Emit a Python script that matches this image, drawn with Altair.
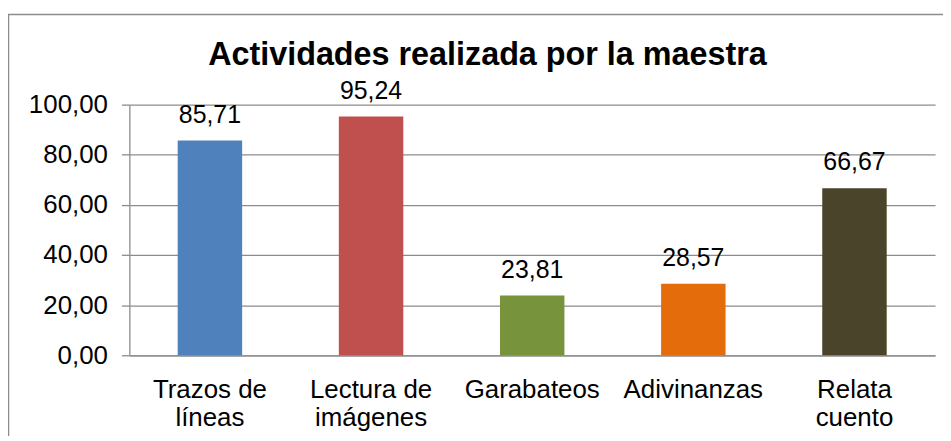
import altair as alt
import pandas as pd

categories = ["Trazos de líneas", "Lectura de imágenes", "Garabateos", "Adivinanzas", "Relata cuento"]
label_lines = [["Trazos de", "líneas"], ["Lectura de", "imágenes"], ["Garabateos"], ["Adivinanzas"], ["Relata", "cuento"]]
values = [85.71, 95.24, 23.81, 28.57, 66.67]
colors = ["#4F81BD", "#C0504D", "#77933C", "#E46C0A", "#4A452A"]
value_labels = ["85,71", "95,24", "23,81", "28,57", "66,67"]
title_text = "Actividades realizada por la maestra"

df = pd.DataFrame({"cat": categories, "val": values, "lab": value_labels})

mapping = "{" + ",".join(
    "'" + c + "':[" + ",".join("'" + l + "'" for l in ls) + "]" for c, ls in zip(categories, label_lines)
) + "}"

W, H = 810, 252
FONT = "Liberation Sans"
GRAY = "#8C8C8C"

x = alt.X("cat:N", sort=categories, title=None,
          scale=alt.Scale(paddingInner=0.6, paddingOuter=0.3),
          axis=alt.Axis(labelAngle=0, labelExpr=mapping + "[datum.label]", labelFontSize=26,
                        labelFont=FONT, labelColor="black", labelLineHeight=28.5,
                        labelPadding=21, ticks=False, domainColor=GRAY, domainWidth=1.3,
                        labelBaseline="top", grid=False))
y = alt.Y("val:Q", title=None,
          scale=alt.Scale(domain=[0, 100], nice=False),
          axis=alt.Axis(values=[0, 20, 40, 60, 80, 100],
                        labelExpr="replace(format(datum.value, '.2f'), '.', ',')",
                        labelFontSize=26, labelFont=FONT, labelColor="black",
                        tickSize=8, tickColor=GRAY, tickWidth=1.3, labelPadding=14,
                        domainColor=GRAY, domainWidth=1.3, gridColor=GRAY, gridWidth=1.3))

base = alt.Chart(df)
bars = base.mark_bar().encode(
    x=x, y=y,
    color=alt.Color("cat:N", sort=categories, scale=alt.Scale(domain=categories, range=colors), legend=None),
)
texts = base.mark_text(baseline="alphabetic", dy=-18, fontSize=25, font=FONT, color="black").encode(
    x=alt.X("cat:N", sort=categories), y="val:Q", text="lab:N"
)
border = alt.Chart(alt.Data(values=[{}])).mark_rect(filled=False, stroke=GRAY, strokeWidth=1.5).encode(
    x=alt.value(-121.5), x2=alt.value(W + 40), y=alt.value(-90.5), y2=alt.value(H + 120)
)
title = alt.Chart(alt.Data(values=[{"t": title_text}])).mark_text(
    fontSize=32.5, font=FONT, fontWeight="bold", color="black", align="center", baseline="alphabetic"
).encode(x=alt.value(360), y=alt.value(-39.5), text="t:N")

chart = alt.layer(border, bars, texts, title).properties(
    width=W, height=H,
    autosize=alt.AutoSizeParams(type="none"),
    padding={"left": 122, "top": 96, "right": 8, "bottom": 80},
).configure_view(stroke=None)

chart.save("out.html", embed_options={"renderer": "svg", "actions": False})
